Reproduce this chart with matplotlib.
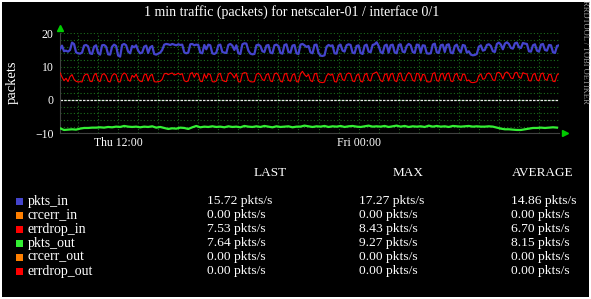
import numpy as np
import pandas as pd
import matplotlib
matplotlib.use("Agg")
import matplotlib.pyplot as plt
import matplotlib.dates as mdates
from matplotlib.patches import Rectangle

W, H = 591, 299
FONT = "Liberation Serif"

# ---------------------------------------------------------------------------
# data (6 min steps for in/drop, 12 min for out)
# ---------------------------------------------------------------------------
t_fast = pd.date_range("2011-01-13 09:06", periods=250, freq="6min")
t_slow = pd.date_range("2011-01-13 09:06", periods=125, freq="12min")

pkts_in = [
    15.2, 16.3, 14.6, 14.8, 14.5, 15.0, 17.2, 16.8, 14.3, 14.0,
    13.9, 14.2, 16.3, 16.5, 16.1, 14.0, 13.8, 16.0, 16.4, 14.1,
    13.6, 16.4, 16.5, 16.0, 13.7, 13.6, 16.0, 16.6, 16.2, 13.3,
    13.0, 16.5, 16.8, 16.4, 14.5, 14.0, 16.2, 15.8, 16.4, 14.8,
    14.0, 14.2, 16.0, 16.3, 14.1, 15.8, 16.2, 13.8, 13.6, 13.9,
    14.2, 15.0, 16.6, 16.8, 16.7, 16.5, 16.8, 16.6, 16.4, 16.7,
    16.5, 16.6, 14.3, 14.0, 14.2, 16.7, 16.8, 16.4, 16.6, 16.5,
    14.2, 14.0, 16.5, 15.2, 16.6, 16.4, 14.0, 13.8, 14.2, 16.4,
    16.6, 14.4, 14.2, 14.1, 16.5, 16.8, 16.3, 15.0, 16.4, 14.0,
    13.8, 16.7, 17.0, 16.9, 14.8, 13.9, 13.7, 13.8, 16.4, 16.6,
    16.2, 14.6, 14.4, 16.3, 16.5, 14.2, 14.0, 16.4, 16.6, 16.2,
    14.1, 13.9, 16.5, 16.7, 14.4, 14.2, 16.3, 16.5, 14.0, 13.8,
    16.6, 16.8, 16.4, 15.9, 16.2, 14.3, 14.0, 16.5, 16.6, 14.1,
    13.3, 13.2, 13.4, 16.0, 16.5, 16.2, 16.4, 14.0, 13.9, 16.3,
    16.6, 14.8, 14.5, 16.4, 16.7, 16.5, 14.2, 14.0, 16.2, 16.4,
    14.1, 13.8, 16.3, 16.6, 14.5, 14.3, 16.5, 16.7, 17.3, 16.2,
    14.4, 14.0, 16.3, 16.6, 14.2, 16.4, 16.6, 14.3, 14.0, 16.5,
    16.7, 14.5, 14.3, 16.2, 16.8, 16.4, 14.4, 14.1, 16.6, 16.5,
    14.2, 16.4, 16.3, 14.0, 13.9, 14.0, 16.6, 16.9, 14.3, 14.1,
    16.4, 16.6, 14.4, 16.5, 16.7, 14.2, 14.0, 16.2, 16.6, 15.0,
    14.3, 16.5, 16.3, 14.2, 14.6, 13.6, 13.4, 13.5, 13.8, 16.0,
    16.4, 14.8, 15.0, 16.5, 16.7, 16.2, 14.6, 14.4, 16.8, 17.2,
    16.6, 15.2, 16.9, 17.3, 16.8, 15.6, 15.4, 17.0, 17.2, 15.8,
    15.6, 17.1, 16.9, 16.8, 14.6, 14.5, 16.4, 16.7, 14.8, 14.5,
    16.6, 16.8, 15.0, 14.8, 16.5, 16.4, 14.3, 14.1, 16.2, 16.4,
]

errdrop_in = [
    8.2, 6.9, 5.8, 6.5, 5.5, 7.0, 7.6, 6.2, 5.6, 5.4,
    5.5, 5.4, 7.2, 7.8, 7.5, 5.6, 5.5, 7.4, 8.0, 5.8,
    5.5, 7.6, 7.9, 7.2, 5.6, 5.4, 7.3, 7.9, 7.6, 5.5,
    5.4, 7.5, 8.1, 7.7, 6.0, 5.6, 7.4, 6.8, 7.8, 6.2,
    5.6, 5.5, 7.5, 7.8, 5.7, 7.3, 7.7, 5.5, 5.4, 5.5,
    5.6, 6.2, 7.8, 8.0, 7.6, 7.9, 8.1, 7.5, 7.7, 8.0,
    7.6, 7.9, 5.8, 5.5, 5.7, 7.9, 8.2, 6.8, 8.0, 7.7,
    5.6, 5.5, 7.8, 6.5, 7.9, 7.6, 5.5, 5.4, 5.7, 7.7,
    8.0, 5.9, 5.6, 5.5, 7.8, 8.2, 7.6, 6.6, 7.9, 5.5,
    5.4, 7.9, 8.2, 8.1, 6.0, 5.5, 5.4, 5.5, 7.7, 8.0,
    7.5, 6.1, 5.8, 7.6, 7.9, 5.7, 5.5, 7.8, 8.1, 7.4,
    5.6, 5.4, 7.7, 8.0, 5.9, 5.6, 7.5, 7.9, 5.5, 5.4,
    7.9, 8.6, 7.6, 7.0, 7.7, 5.8, 5.5, 7.8, 8.0, 5.6,
    5.3, 5.2, 5.4, 7.2, 7.9, 7.4, 7.8, 5.5, 5.4, 7.6,
    8.0, 6.1, 5.8, 7.7, 8.1, 7.8, 5.7, 5.5, 7.4, 7.8,
    5.6, 5.4, 7.5, 8.0, 6.0, 5.7, 7.8, 8.1, 8.4, 7.3,
    5.8, 5.5, 7.6, 7.9, 5.7, 7.7, 8.0, 5.8, 5.5, 7.8,
    8.1, 6.0, 5.7, 7.4, 8.2, 7.7, 5.9, 5.6, 8.0, 7.8,
    5.7, 7.7, 7.5, 5.5, 5.4, 5.5, 7.9, 8.2, 5.8, 5.6,
    7.7, 8.0, 5.9, 7.8, 8.1, 5.7, 5.5, 7.5, 8.0, 6.3,
    5.8, 7.8, 7.6, 5.7, 6.0, 5.3, 5.2, 5.3, 5.5, 7.3,
    7.8, 6.2, 6.4, 7.8, 8.1, 7.5, 6.0, 5.8, 8.1, 8.3,
    7.7, 6.3, 8.0, 8.4, 7.9, 6.6, 6.4, 8.1, 8.3, 6.8,
    6.5, 8.2, 7.9, 7.8, 5.8, 5.7, 7.6, 8.0, 6.0, 5.7,
    7.8, 8.1, 6.2, 5.9, 7.7, 7.6, 5.6, 5.5, 7.5, 7.9,
]

# outgoing is drawn mirrored below zero
pkts_out = [
    -8.5, -9.0, -8.9, -8.8, -8.9, -8.6, -8.4, -8.4, -8.3, -8.3,
    -8.2, -8.3, -8.1, -8.2, -8.0, -8.1, -7.8, -8.0, -8.1, -8.0,
    -8.2, -8.0, -8.1, -7.9, -8.3, -8.1, -8.4, -8.7, -8.5, -8.6,
    -8.3, -8.4, -8.7, -8.2, -7.8, -8.2, -8.0, -8.1, -7.9, -8.1,
    -8.0, -8.2, -7.9, -8.1, -8.0, -8.2, -7.8, -8.0, -8.1, -7.9,
    -8.1, -7.8, -8.0, -8.2, -7.9, -8.1, -8.0, -7.9, -8.2, -8.0,
    -8.0, -7.7, -7.9, -8.1, -7.9, -8.0, -7.8, -8.1, -7.9, -8.0,
    -7.8, -8.1, -7.9, -7.8, -8.0, -8.1, -7.9, -7.7, -8.0, -7.9,
    -8.0, -7.8, -8.1, -7.9, -7.7, -8.0, -7.8, -8.1, -7.9, -8.0,
    -7.9, -8.1, -7.7, -8.0, -7.8, -8.0, -7.9, -8.1, -7.8, -7.9,
    -8.0, -7.9, -7.8, -8.0, -7.9, -8.0, -8.0, -7.9, -8.0, -8.3,
    -8.6, -8.8, -8.8, -8.9, -9.0, -9.0, -8.8, -8.6, -8.4, -8.4,
    -8.3, -8.4, -8.3, -8.2, -8.3,
]

legend_names = ["pkts_in", "crcerr_in", "errdrop_in", "pkts_out", "crcerr_out", "errdrop_out"]
legend_colors = ["#4444CC", "#FF7F00", "#FF0000", "#33EE33", "#FF7F00", "#FF0000"]
last_vals = ["15.72", "0.00", "7.53", "7.64", "0.00", "0.00"]
max_vals = ["17.27", "0.00", "8.43", "9.27", "0.00", "0.00"]
avg_vals = ["14.86", "0.00", "6.70", "8.15", "0.00", "0.00"]
unit = "pkts/s"

title = "1 min traffic (packets) for netscaler-01 / interface 0/1"

# ---------------------------------------------------------------------------
# figure
# ---------------------------------------------------------------------------
plt.rcParams["font.family"] = [FONT, "DejaVu Serif"]
fig = plt.figure(figsize=(W / 100, H / 100), dpi=100, facecolor="white")


def fx(x):
    return x / W


def fy(y):
    return 1 - y / H


# black canvas inside a thin white frame
fig.patches.append(Rectangle((fx(2), fy(297)), fx(587), 295 / H,
                             transform=fig.transFigure, facecolor="black",
                             edgecolor="none", zorder=-5))

ax = fig.add_axes([fx(60), fy(133.3), fx(499), 100 / H])
ax.set_zorder(2)
ax.set_facecolor("black")
ax.set_ylim(-10, 20)
ax.set_xlim(pd.Timestamp("2011-01-13 09:06"), pd.Timestamp("2011-01-14 10:00"))

gridc = "#1c6e1c"
ax.yaxis.set_major_locator(plt.MultipleLocator(10))
ax.yaxis.set_minor_locator(plt.MultipleLocator(2))
ax.xaxis.set_major_locator(mdates.HourLocator(byhour=[0, 12]))
ax.xaxis.set_minor_locator(mdates.HourLocator())
ax.xaxis.set_major_formatter(mdates.DateFormatter("%a %H:%M"))
ax.grid(which="both", color=gridc, linestyle=(0, (1, 2)), linewidth=0.8)
ax.set_axisbelow(True)
ax.tick_params(which="both", length=0, colors="white", labelsize=8.5)
ax.tick_params(axis="y", pad=4.5)
ax.tick_params(axis="x", pad=3)
for s in ax.spines.values():
    s.set_visible(False)
ax.spines["left"].set_visible(True)
ax.spines["left"].set_color("#404040")
ax.spines["bottom"].set_visible(True)
ax.spines["bottom"].set_color("#404040")

ax.axhline(0, color="#e8e8e8", linewidth=0.9, linestyle=(0, (2, 1)), zorder=2)

ax.plot(t_fast, pkts_in, color="#4444CC", linewidth=1.6, zorder=3)
ax.plot(t_fast, errdrop_in, color="#FF0000", linewidth=0.8, zorder=3)
ax.plot(t_slow, pkts_out, color="#33EE33", linewidth=1.6, zorder=3)

# rrdtool style axis arrows
ax.plot([0], [1.053], marker="^", color="#00CC00", markersize=4,
        transform=ax.transAxes, clip_on=False)
ax.plot([1.012], [0], marker=">", color="#00CC00", markersize=4,
        transform=ax.transAxes, clip_on=False)

fig.text(fx(12), fy(82), "packets", color="white", fontsize=10.5,
         rotation=90, ha="center", va="center")

fig.text(fx(292), fy(12), title, color="white", fontsize=10,
         ha="center", va="center")
fig.text(fx(585), fy(52), "RRDTOOL / TOBI OETIKER", color="#9a9a9a",
         fontsize=6, rotation=270, ha="center", va="center")

# legend block
fig.text(fx(270), fy(173), "LAST", color="white", fontsize=9.5, ha="center", va="center")
fig.text(fx(408), fy(173), "MAX", color="white", fontsize=9.5, ha="center", va="center")
fig.text(fx(543), fy(173), "AVERAGE", color="white", fontsize=9.5, ha="center", va="center")

row_y = [201, 215, 229, 243, 257, 271]
for i, name in enumerate(legend_names):
    y = row_y[i]
    fig.patches.append(Rectangle((fx(16), fy(y + 3.5)), fx(7), 7 / H,
                                 transform=fig.transFigure,
                                 facecolor=legend_colors[i], edgecolor="none"))
    fig.text(fx(28), fy(y), name, color="white", fontsize=10, va="center")
    fig.text(fx(207), fy(y), f"{last_vals[i]} {unit}", color="white", fontsize=9.7, va="center")
    fig.text(fx(359), fy(y), f"{max_vals[i]} {unit}", color="white", fontsize=9.7, va="center")
    fig.text(fx(511), fy(y), f"{avg_vals[i]} {unit}", color="white", fontsize=9.7, va="center")

fig.savefig("out.png", dpi=100, facecolor="white")
